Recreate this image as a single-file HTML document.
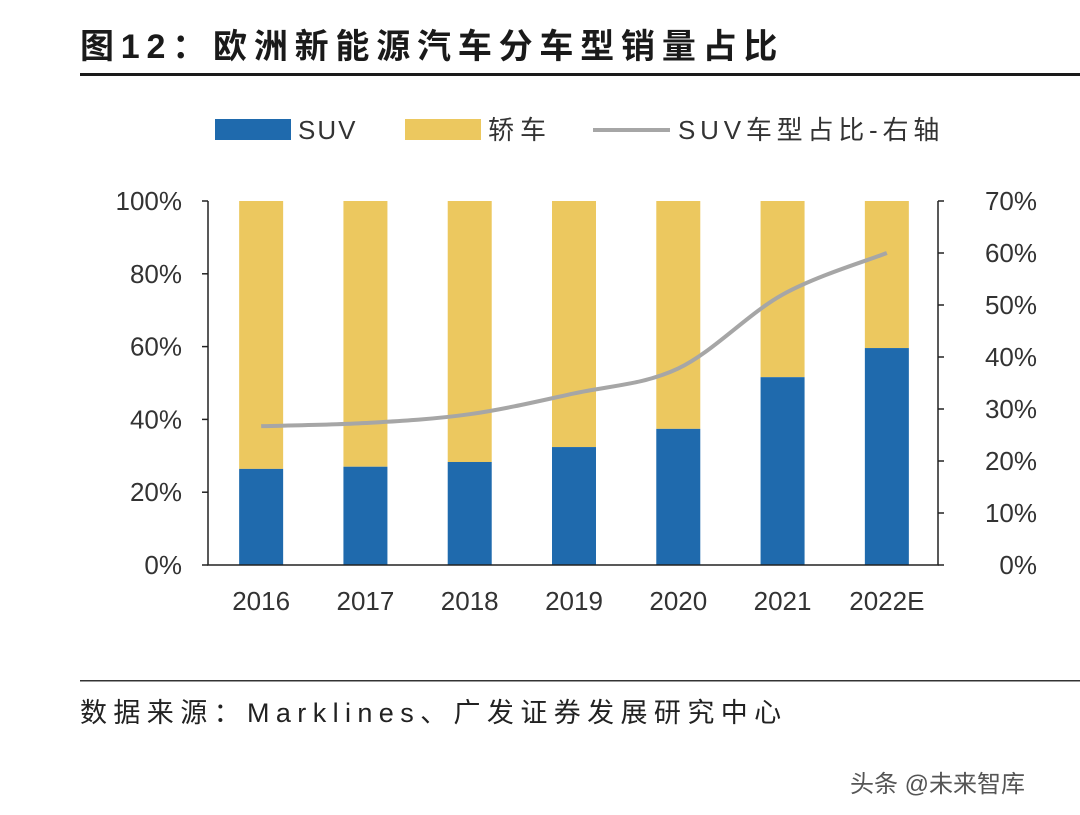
<!DOCTYPE html>
<html><head><meta charset="utf-8"><style>
html,body{margin:0;padding:0;background:#fff;}
body{width:1080px;height:810px;overflow:hidden;font-family:"Liberation Sans","Noto Sans CJK SC",sans-serif;}
</style></head><body>
<svg id="chart" width="1080" height="810" xmlns="http://www.w3.org/2000/svg" font-family="Liberation Sans, Noto Sans CJK SC, sans-serif">
<text x="80" y="58" font-size="34" font-weight="bold" fill="#1a1a1a" letter-spacing="6.8">图12：欧洲新能源汽车分车型销量占比</text>
<rect x="80" y="73" width="1000" height="3" fill="#1a1a1a"/>
<g>
<rect x="215" y="119" width="76" height="21" fill="#1f6aad"/>
<text x="298" y="139" font-size="26" fill="#333" letter-spacing="2">SUV</text>
<rect x="405" y="119" width="76" height="21" fill="#ecc85f"/>
<text x="488" y="139" font-size="26" fill="#333" letter-spacing="6">轿车</text>
<line x1="593" y1="130" x2="670" y2="130" stroke="#a6a6a6" stroke-width="4"/>
<text x="678" y="139" font-size="26" fill="#333" letter-spacing="4.8">SUV车型占比-右轴</text>
</g>
<g id="plot"></g>
<rect x="80" y="680" width="1000" height="1.5" fill="#333"/>
<text x="80" y="722" font-size="27" fill="#222" letter-spacing="6.4">数据来源：Marklines、广发证券发展研究中心</text>
<text x="850" y="792" font-size="24" fill="#555">头条 @未来智库</text>
</svg>
<script>
const categories=["2016","2017","2018","2019","2020","2021","2022E"];
const suvShare=[26.4,27,28.3,32.4,37.4,51.6,59.6];
const lineShare=[26.7,27.3,29.0,33.0,37.8,52.0,60.0];
const leftTicks=["0%","20%","40%","60%","80%","100%"];
const rightTicks=["0%","10%","20%","30%","40%","50%","60%","70%"];
const NS="http://www.w3.org/2000/svg";
const g=document.getElementById('plot');
const X0=208,X1=938,Y0=565,Y1=201;
const step=(X1-X0)/categories.length;
const xc=i=>X0+step*(i+0.5)+1;
const yL=v=>Y0-(Y0-Y1)*v/100;
const yR=v=>Y0-(Y0-Y1)*v/70;
function mk(t,a){const e=document.createElementNS(NS,t);for(const k in a)e.setAttribute(k,a[k]);g.appendChild(e);return e;}
categories.forEach((c,i)=>{
 const bw=44;
 const s=mk('rect',{x:xc(i)-bw/2,y:yL(100),width:bw,height:yL(suvShare[i])-yL(100),fill:'#ecc85f'});
 
 
 const b=mk('rect',{x:xc(i)-bw/2,y:yL(suvShare[i]),width:bw,height:Y0-yL(suvShare[i]),fill:'#1f6aad'});
 
 
 const t=mk('text',{x:xc(i),y:610,'font-size':26,'text-anchor':'middle',fill:'#333'});t.textContent=c;
 
 
});
const ax=mk('path',{d:`M${X0} ${Y1}V${Y0}H${X1}V${Y1}`,fill:'none',stroke:'#222','stroke-width':1.5});


leftTicks.forEach((l,i)=>{const v=i*20;
 mk('line',{x1:X0-6,x2:X0,y1:yL(v),y2:yL(v),stroke:'#222','stroke-width':1.5});
 const t=mk('text',{x:182,y:yL(v)+9,'font-size':26,'text-anchor':'end',fill:'#333'});t.textContent=l;
 
 });
rightTicks.forEach((l,i)=>{const v=i*10;
 mk('line',{x1:X1,x2:X1+6,y1:yR(v),y2:yR(v),stroke:'#222','stroke-width':1.5});
 const t=mk('text',{x:1037,y:yR(v)+9,'font-size':26,'text-anchor':'end',fill:'#333'});t.textContent=l;
 
 });
const pts=lineShare.map((v,i)=>[xc(i),yR(v)]);
let d=`M${pts[0][0]} ${pts[0][1]}`;
for(let i=0;i<pts.length-1;i++){const p0=pts[Math.max(0,i-1)],p1=pts[i],p2=pts[i+1],p3=pts[Math.min(pts.length-1,i+2)];
 const c1=[p1[0]+(p2[0]-p0[0])/6,p1[1]+(p2[1]-p0[1])/6],c2=[p2[0]-(p3[0]-p1[0])/6,p2[1]-(p3[1]-p1[1])/6];
 d+=` C${c1[0]} ${c1[1]} ${c2[0]} ${c2[1]} ${p2[0]} ${p2[1]}`;}
const ln=mk('path',{d:d,fill:'none',stroke:'#a6a6a6','stroke-width':4});


</script>
</body></html>
